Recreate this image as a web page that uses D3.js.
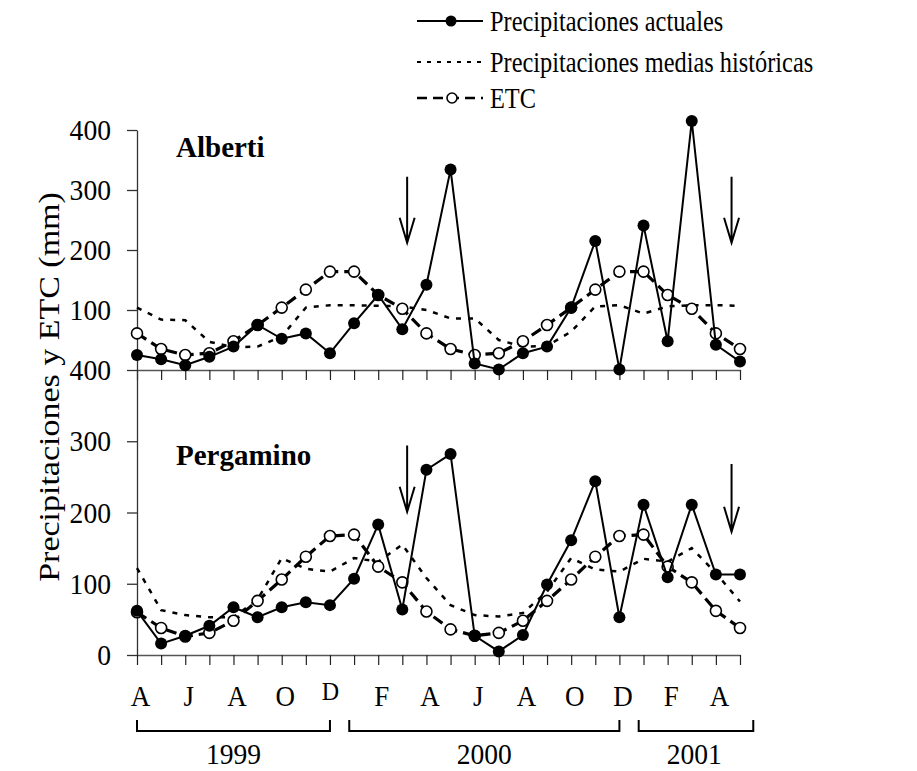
<!DOCTYPE html>
<html>
<head>
<meta charset="utf-8">
<script src="https://cdn.jsdelivr.net/npm/d3@7"></script>
<style>
  body { margin: 0; background: #fff; }
  text { font-family: "Liberation Serif", "Times New Roman", serif; fill: #000; }
</style>
</head>
<body>
<script>
// months Apr 1999 .. May 2001, one point per month
const monthTicks = [0, 2, 4, 6, 8, 10, 12, 14, 16, 18, 20, 22, 24];
const monthLabels = ["A", "J", "A", "O", "D", "F", "A", "J", "A", "O", "D", "F", "A"];

const albertiActual = [25, 18, 8, 22, 39, 75, 52, 61, 28, 78, 125, 68, 142, 334, 11, 1, 28, 39, 104, 215, 1, 241, 48, 415, 42, 14];
const albertiHist   = [104, 84, 83, 47, 38, 39, 56, 104, 108, 108, 107, 106, 100, 86, 86, 50, 39, 40, 64, 106, 108, 94, 106, 108, 108, 107];
const albertiETC    = [61, 35, 25, 28, 48, 75, 104, 134, 164, 164, 125, 102, 61, 35, 25, 28, 48, 75, 104, 134, 164, 164, 125, 102, 61, 35];

const pergaminoActual = [62, 16, 27, 41, 67, 53, 67, 74, 70, 107, 183, 64, 260, 282, 27, 5, 28, 99, 161, 244, 53, 211, 109, 211, 113, 113];
const pergaminoHist   = [122, 63, 56, 53, 53, 78, 136, 121, 117, 136, 131, 155, 108, 70, 56, 54, 59, 89, 136, 120, 117, 135, 131, 150, 115, 75];
const pergaminoETC    = [60, 38, 26, 31, 48, 76, 106, 138, 167, 169, 124, 102, 61, 36, 27, 31, 48, 76, 106, 138, 167, 169, 124, 102, 62, 38];

const yTickTop = [100, 200, 300, 400];
const yTickBottom = [0, 100, 200, 300, 400];

// arrows: month position, start value, end value
const albertiArrows = [[11.2, 322, 212], [24.65, 322, 212]];
const pergaminoArrows = [[11.2, 294, 201], [24.65, 268, 173]];

// year brackets: start month, end month, label position
const years = ["1999", "2000", "2001"];
const yearSpans = [[0, 8, 4], [8.8, 20, 14.4], [20.8, 25.55, 23.1]];

const legendLabels = ["Precipitaciones actuales", "Precipitaciones medias históricas", "ETC"];

const W = 917, H = 771;
const SQ = 0.84; // horizontal squeeze of the printed text

const svg = d3.select("body").append("svg")
  .attr("width", W)
  .attr("height", H);

const x = d3.scaleLinear().domain([0, 25]).range([137, 740]);
const yTop = d3.scaleLinear().domain([0, 400]).range([370, 130]);
const yBot = d3.scaleLinear().domain([0, 400]).range([655, 370]);

function drawPanel(yScale, tickVals, actual, hist, etc, name, nameY, arrows) {
  // y axis
  const ya = svg.append("g")
    .attr("transform", "translate(" + x(0) + ",0)")
    .call(d3.axisLeft(yScale).tickValues(tickVals).tickSize(10).tickSizeOuter(0).tickPadding(20));
  ya.select(".domain").attr("stroke", "#333").attr("stroke-width", 1.3);
  ya.selectAll(".tick line").attr("stroke", "#333").attr("stroke-width", 1.3);
  ya.selectAll(".tick text")
    .attr("x", 0)
    .attr("transform", "translate(-26,0) scale(0.92,1)")
    .style("font-size", "30px");

  // x axis with monthly ticks
  const xa = svg.append("g")
    .attr("transform", "translate(0," + yScale(0) + ")")
    .call(d3.axisBottom(x).tickValues(d3.range(26)).tickSize(10).tickSizeOuter(0).tickFormat(""));
  xa.select(".domain").attr("stroke", "#555").attr("stroke-width", 1.3);
  xa.selectAll(".tick line").attr("stroke", "#222").attr("stroke-width", 1.2);

  const line = d3.line().x((d, i) => x(i)).y(d => yScale(d));

  // historical means
  svg.append("path")
    .datum(hist)
    .attr("d", line)
    .attr("fill", "none")
    .attr("stroke", "#000")
    .attr("stroke-width", 2.5)
    .attr("stroke-dasharray", "5,7");

  // ETC
  svg.append("path")
    .datum(etc)
    .attr("d", line)
    .attr("fill", "none")
    .attr("stroke", "#000")
    .attr("stroke-width", 3.2)
    .attr("stroke-dasharray", "11,6");
  svg.append("g").selectAll("circle")
    .data(etc)
    .join("circle")
    .attr("cx", (d, i) => x(i))
    .attr("cy", d => yScale(d))
    .attr("r", 5.5)
    .attr("fill", "#fff")
    .attr("stroke", "#000")
    .attr("stroke-width", 1.6);

  // actual rainfall
  svg.append("path")
    .datum(actual)
    .attr("d", line)
    .attr("fill", "none")
    .attr("stroke", "#000")
    .attr("stroke-width", 2);
  svg.append("g").selectAll("circle")
    .data(actual)
    .join("circle")
    .attr("cx", (d, i) => x(i))
    .attr("cy", d => yScale(d))
    .attr("r", 6)
    .attr("fill", "#000");

  // arrows
  arrows.forEach(a => {
    const ax = x(a[0]), y1 = yScale(a[1]), y2 = yScale(a[2]);
    svg.append("path")
      .attr("d", "M" + ax + "," + y1 + "V" + y2 + "M" + (ax - 7.5) + "," + (y2 - 25) + "L" + ax + "," + y2 + "L" + (ax + 7.5) + "," + (y2 - 25))
      .attr("fill", "none")
      .attr("stroke", "#000")
      .attr("stroke-width", 2);
  });

  svg.append("text")
    .attr("x", 176)
    .attr("y", nameY)
    .style("font-size", "29px")
    .style("font-weight", "bold")
    .text(name);
}

drawPanel(yTop, yTickTop, albertiActual, albertiHist, albertiETC, "Alberti", 157, albertiArrows);
drawPanel(yBot, yTickBottom, pergaminoActual, pergaminoHist, pergaminoETC, "Pergamino", 465, pergaminoArrows);

// month labels under the lower panel
const ma = svg.append("g")
  .attr("transform", "translate(0,655)")
  .call(d3.axisBottom(x).tickValues(monthTicks).tickSize(0).tickPadding(30)
    .tickFormat((d, i) => monthLabels[i]));
ma.select(".domain").remove();
ma.selectAll(".tick text")
  .attr("y", 0).attr("dy", null)
  .attr("transform", (d, i) => i === 4
    ? "translate(0,45) scale(0.8,0.85)"
    : "translate(3,51) scale(0.9,1)")
  .style("font-size", "30px");

// year brackets
years.forEach((yr, i) => {
  const s = yearSpans[i];
  svg.append("path")
    .attr("d", "M" + x(s[0]) + ",720V731H" + x(s[1]) + "V720")
    .attr("fill", "none")
    .attr("stroke", "#000")
    .attr("stroke-width", 2);
  svg.append("text")
    .attr("transform", "translate(" + x(s[2]) + ",764) scale(0.95,1)")
    .attr("text-anchor", "middle")
    .style("font-size", "29px")
    .text(yr);
});

// y axis title
svg.append("text")
  .attr("transform", "translate(59,387) rotate(-90) scale(1," + SQ + ")")
  .attr("text-anchor", "middle")
  .style("font-size", "34px")
  .text("Precipitaciones y ETC (mm)");

// legend
const legY = [21, 62, 98];
const lg = svg.append("g");
lg.append("line").attr("x1", 417).attr("x2", 483).attr("y1", legY[0]).attr("y2", legY[0])
  .attr("stroke", "#000").attr("stroke-width", 2);
lg.append("circle").attr("cx", 451).attr("cy", legY[0]).attr("r", 5.5).attr("fill", "#000");
lg.append("line").attr("x1", 417).attr("x2", 483).attr("y1", legY[1]).attr("y2", legY[1])
  .attr("stroke", "#000").attr("stroke-width", 2.2).attr("stroke-dasharray", "4,6");
lg.append("line").attr("x1", 417).attr("x2", 483).attr("y1", legY[2]).attr("y2", legY[2])
  .attr("stroke", "#000").attr("stroke-width", 2.5).attr("stroke-dasharray", "10,6");
lg.append("circle").attr("cx", 452).attr("cy", legY[2]).attr("r", 5).attr("fill", "#fff")
  .attr("stroke", "#000").attr("stroke-width", 1.6);
legendLabels.forEach((t, i) => {
  lg.append("text")
    .attr("transform", "translate(490," + (legY[i] + 10) + ") scale(" + SQ + ",1)")
    .style("font-size", "29px")
    .text(t);
});
</script>
</body>
</html>
